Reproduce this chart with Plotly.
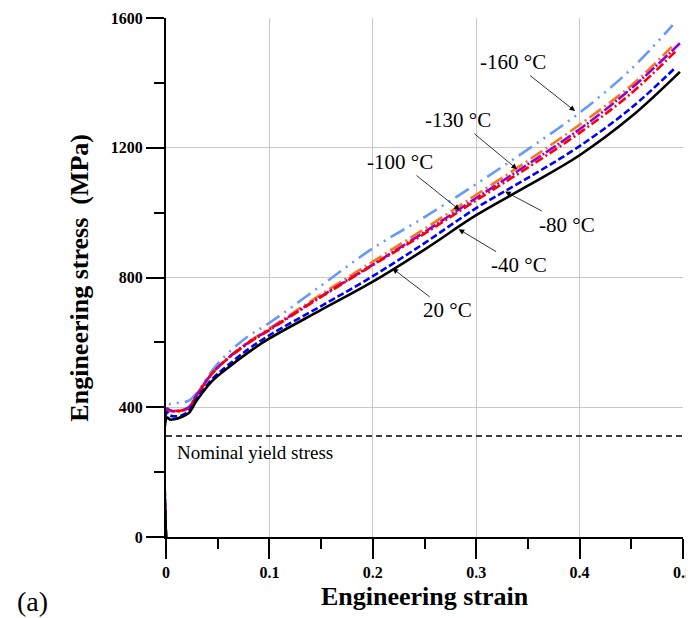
import plotly.graph_objects as go

# ---------------- data ----------------
strain = [0, 0.001, 0.004, 0.008, 0.015, 0.022, 0.03, 0.045, 0.06, 0.08,
          0.1, 0.15, 0.2, 0.25, 0.3, 0.35, 0.4, 0.45]

temps = ["20 °C", "-40 °C", "-80 °C", "-100 °C", "-130 °C", "-160 °C"]

stress_20 = [0, 368, 362, 363, 370, 382, 422, 482, 522, 570,
             612, 700, 787, 886, 992, 1083, 1177, 1296]
stress_m40 = [0, 385, 375, 372, 375, 388, 428, 488, 530, 580,
              622, 712, 804, 906, 1014, 1107, 1205, 1323]
stress_m80 = [0, 392, 390, 389, 390, 398, 438, 505, 550, 598,
              638, 740, 838, 935, 1038, 1139, 1246, 1368]
stress_m100 = [0, 396, 390, 388, 390, 400, 440, 506, 552, 600,
               640, 742, 840, 940, 1045, 1149, 1257, 1383]
stress_m130 = [0, 390, 388, 386, 388, 398, 438, 506, 552, 602,
               643, 748, 849, 950, 1055, 1160, 1271, 1392]
stress_m160 = [0, 412, 410, 412, 415, 420, 445, 515, 567, 620,
               660, 775, 890, 986, 1088, 1195, 1308, 1443]

end_strain = [0.497, 0.492, 0.494, 0.497, 0.489, 0.490]
end_stress = [1434, 1445, 1501, 1522, 1511, 1578]

nominal_yield = 311

# label arrows: (strain, stress) of arrow heads
label_x = [0.219, 0.283, 0.328, 0.284, 0.3395, 0.3956]
label_y = [828, 949, 1065, 1008, 1134, 1313]
label_ax = [55, 60, 62, -60, -59, -62]
label_ay = [42, 36, 33, -48, -49, -49]

x_ticks = [0, 0.1, 0.2, 0.3, 0.4, 0.5]
y_ticks = [0, 400, 800, 1200, 1600]

# ---------------- styles ----------------
series = [stress_20, stress_m40, stress_m80, stress_m100, stress_m130, stress_m160]
colors = ["#000000", "#0000ff", "#ff0000", "#9400d3", "#ff7410", "#6699ff"]
dashes = ["solid", "7px,3px", "9px,3px,2px,3px", "12px,2px,2px,2px",
          "14px,4px,2px,4px", "16px,6px,2px,6px,2px,6px"]

FONT = "Liberation Serif, Times New Roman, serif"

fig = go.Figure()

# nominal yield stress line
fig.add_trace(go.Scatter(x=[0, 0.5], y=[nominal_yield, nominal_yield], mode="lines",
                         line=dict(color="black", width=1.5, dash="6px,4px"),
                         showlegend=False, hoverinfo="skip"))

order = [5, 4, 3, 2, 1, 0]
for i in order:
    fig.add_trace(go.Scatter(
        x=strain + [end_strain[i]], y=series[i] + [end_stress[i]],
        mode="lines", name=temps[i],
        line=dict(color=colors[i], width=2.6, dash=dashes[i],
                  shape="spline", smoothing=1.0),
        showlegend=False))

for i in range(len(temps)):
    fig.add_annotation(x=label_x[i], y=label_y[i], xref="x", yref="y",
                       text=temps[i], showarrow=True, arrowhead=2, arrowsize=1.4,
                       arrowwidth=0.8, arrowcolor="black",
                       ax=label_ax[i], ay=label_ay[i], standoff=0,
                       font=dict(family=FONT, size=21, color="black"))

fig.add_annotation(x=0.009, y=262, xref="x", yref="y", text="Nominal yield stress",
                   showarrow=False, xanchor="left", yanchor="middle",
                   font=dict(family=FONT, size=19, color="black"))

# axis titles and panel label
fig.add_annotation(x=-0.168, y=0.5, xref="paper", yref="paper",
                   xanchor="center", yanchor="middle",
                   text="<b>Engineering stress  (MPa)</b>", textangle=-90,
                   showarrow=False, font=dict(family=FONT, size=26, color="black"))
fig.add_annotation(x=0.5, y=-0.1156, xref="paper", yref="paper",
                   xanchor="center", yanchor="middle",
                   text="<b>Engineering strain</b>", showarrow=False,
                   font=dict(family=FONT, size=26, color="black"))
fig.add_annotation(x=-0.259, y=-0.125, xref="paper", yref="paper",
                   xanchor="center", yanchor="middle",
                   text="(a)", showarrow=False,
                   font=dict(family=FONT, size=28, color="black"))

fig.update_xaxes(range=[0, 0.5], tickvals=x_ticks, ticktext=[str(v) for v in x_ticks],
                 showgrid=True, gridcolor="#c8c8c8", gridwidth=1,
                 showline=True, linecolor="black", linewidth=2,
                 ticks="outside", ticklen=20, tickwidth=2, tickcolor="black",
                 minor=dict(dtick=0.05, ticks="outside", ticklen=10, tickwidth=2,
                            tickcolor="black", showgrid=False),
                 tickfont=dict(family=FONT, size=16, color="black", weight="bold"),
                 zeroline=False, automargin=False)
fig.update_yaxes(range=[0, 1600], tickvals=y_ticks, ticktext=[str(v) for v in y_ticks],
                 showgrid=True, gridcolor="#c8c8c8", gridwidth=1,
                 showline=True, linecolor="black", linewidth=2,
                 ticks="outside", ticklen=18, tickwidth=2, tickcolor="black",
                 minor=dict(dtick=200, ticks="outside", ticklen=10, tickwidth=2,
                            tickcolor="black", showgrid=False),
                 tickfont=dict(family=FONT, size=16, color="black", weight="bold"),
                 zeroline=False, automargin=False)

# the page body has an 8px margin, so the figure is sized/offset accordingly
fig.update_layout(width=694, height=610,
                  margin=dict(l=158, r=19, t=10, b=81),
                  paper_bgcolor="white", plot_bgcolor="white",
                  showlegend=False)

fig.write_html("out.html")
